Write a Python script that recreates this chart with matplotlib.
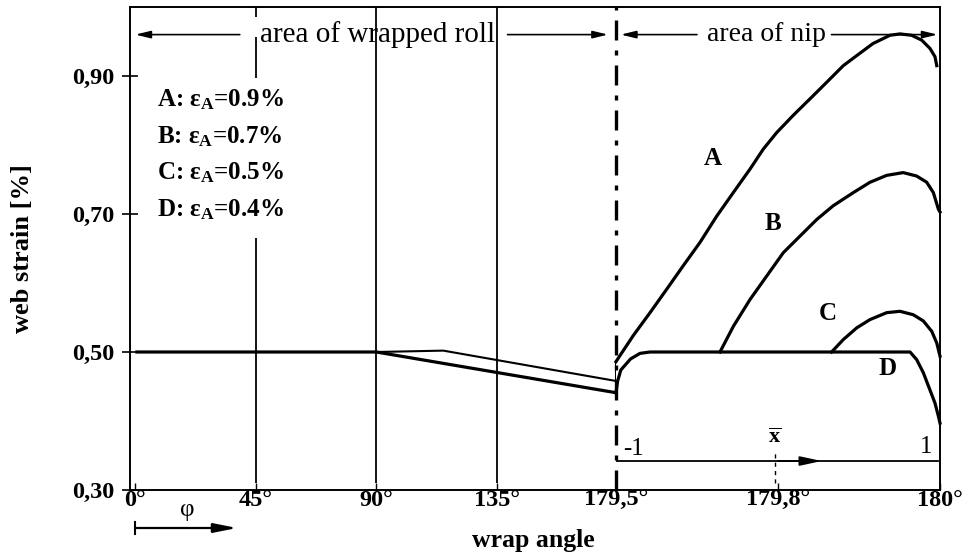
import matplotlib
matplotlib.use('Agg')
import matplotlib.pyplot as plt

plt.rcParams['font.family'] = ['Liberation Serif', 'DejaVu Serif']
plt.rcParams['mathtext.fontset'] = 'custom'
plt.rcParams['mathtext.rm'] = 'Liberation Serif:bold'
plt.rcParams['mathtext.it'] = 'Liberation Serif:bold'
plt.rcParams['mathtext.bf'] = 'Liberation Serif:bold'

# ---------------- data ----------------
# area of wrapped roll (x = wrap angle in degrees)
wrap_lower_angle = [0, 90, 179.5]
wrap_lower_strain = [0.50, 0.50, 0.441]
wrap_upper_angle = [90, 115, 179.5, 179.5]
wrap_upper_strain = [0.50, 0.502, 0.458, 0.486]

# area of nip (x = normalised nip coordinate x-bar, -1 .. 1)
nip_A_x = [-1.0, -0.975, -0.893, -0.79, -0.687, -0.585, -0.481, -0.378, -0.276, -0.173,
           -0.091, -0.008, 0.094, 0.198, 0.301, 0.403, 0.50, 0.586, 0.691, 0.753,
           0.825, 0.887, 0.938, 0.969, 0.98]
nip_A_strain = [0.486, 0.495, 0.524, 0.557, 0.591, 0.625, 0.659, 0.697, 0.731, 0.765,
                0.794, 0.818, 0.843, 0.867, 0.891, 0.915, 0.932, 0.947, 0.959, 0.961,
                0.959, 0.952, 0.940, 0.928, 0.915]

nip_D_x = [-1.0, -0.99, -0.97, -0.94, -0.91, -0.852, -0.79, -0.75, 0.815, 0.856,
           0.897, 0.938, 0.969, 0.99, 1.0]
nip_D_strain = [0.441, 0.458, 0.474, 0.482, 0.490, 0.498, 0.50, 0.50, 0.50, 0.489,
                0.470, 0.445, 0.426, 0.407, 0.397]

nip_C_x = [0.331, 0.403, 0.486, 0.568, 0.671, 0.753, 0.835, 0.897, 0.949, 0.98, 1.0]
nip_C_strain = [0.50, 0.518, 0.535, 0.547, 0.557, 0.559, 0.554, 0.545, 0.530, 0.513, 0.494]

nip_B_x = [-0.358, -0.276, -0.173, -0.07, 0.033, 0.136, 0.239, 0.341, 0.465, 0.568,
           0.671, 0.773, 0.856, 0.918, 0.959, 0.99, 1.0]
nip_B_strain = [0.50, 0.537, 0.576, 0.610, 0.644, 0.668, 0.692, 0.712, 0.731, 0.746,
                0.756, 0.760, 0.755, 0.746, 0.731, 0.707, 0.703]

legend_lines = [r"A: $\varepsilon_{A}$=0.9%", r"B: $\varepsilon_{A}$=0.7%",
                r"C: $\varepsilon_{A}$=0.5%", r"D: $\varepsilon_{A}$=0.4%"]
curve_letters = ['A', 'B', 'C', 'D']

wrap_ticks = [0, 45, 90, 135, 179.5]
wrap_ticklabels = ['0°', '45°', '90°', '135°', '179,5°']
nip_ticks = [0, 1]
nip_ticklabels = ['179,8°', '180°']
y_ticks = [0.30, 0.50, 0.70, 0.90]
y_ticklabels = ['0,30', '0,50', '0,70', '0,90']

# ---------------- figure ----------------
W, H = 968, 559
fig = plt.figure(figsize=(W / 100, H / 100), dpi=100)
x0, xb, x1 = 130, 616, 940
ytop, ybot = 7, 490
axL = fig.add_axes([x0 / W, 1 - ybot / H, (xb - x0) / W, (ybot - ytop) / H])
axR = fig.add_axes([xb / W, 1 - ybot / H, (x1 - xb) / W, (ybot - ytop) / H], sharey=axL)

for ax in (axL, axR):
    for s in ax.spines.values():
        s.set_linewidth(1.4)
axL.spines['right'].set_visible(False)
axR.spines['left'].set_visible(False)

axL.set_xlim(-2, 179.5)
axR.set_xlim(-1, 1)
axL.set_ylim(0.30, 1.00)

# ticks
axL.set_yticks(y_ticks)
axL.set_yticklabels(y_ticklabels, fontsize=17.5, fontweight='bold')
axL.tick_params(axis='y', direction='inout', length=12, width=1.2, pad=5)
axL.set_xticks(wrap_ticks)
axL.set_xticklabels(wrap_ticklabels, fontsize=17.5, fontweight='bold')
axL.tick_params(axis='x', direction='in', length=5, width=1.0, pad=0)
axR.set_xticks(nip_ticks)
axR.set_xticklabels(nip_ticklabels, fontsize=17.5, fontweight='bold')
axR.tick_params(axis='x', direction='in', length=5, width=1.0, pad=0)
axR.tick_params(axis='y', left=False, labelleft=False)

# vertical guide lines in wrapped area
axL.vlines([45, 45, 45], [0.31, 0.897, 0.985], [0.665, 0.957, 1.0], color='k', lw=1.3)
axL.vlines([90, 135], 0.31, 1.0, color='k', lw=1.3)

# boundary dash-dot line
axR.axvline(-1, color='k', lw=2.4, ls=(0, (6, 3, 1.5, 3)), clip_on=False)

# curves wrapped region
axL.plot(wrap_lower_angle, wrap_lower_strain, color='k', lw=2.3, solid_capstyle='butt')
axL.plot(wrap_upper_angle, wrap_upper_strain, color='k', lw=1.5, clip_on=False)

# curves nip region
for xs, ys in [(nip_A_x, nip_A_strain), (nip_D_x, nip_D_strain),
               (nip_C_x, nip_C_strain), (nip_B_x, nip_B_strain)]:
    axR.plot(xs, ys, color='k', lw=2.3, clip_on=False, solid_joinstyle='round')

# curve letters
for lab, (xx, yy) in zip(curve_letters, [(-0.40, 0.780), (-0.03, 0.686), (0.31, 0.556), (0.675, 0.476)]):
    axR.text(xx, yy, lab, fontsize=18, fontweight='bold', ha='center', va='center')

# legend text
for txt, yy in zip(legend_lines, [0.866, 0.812, 0.760, 0.706]):
    axL.text(8, yy, txt, fontsize=18, fontweight='bold', ha='left', va='center')

# area arrows at top
ya = 0.960
arw = dict(arrowstyle='-|>,head_length=0.9,head_width=0.22', color='k', lw=1.2,
           shrinkA=0, shrinkB=0)
axL.annotate('', xy=(0, ya), xytext=(39, ya), arrowprops=arw)
axL.annotate('', xy=(176.5, ya), xytext=(139, ya), arrowprops=arw)
axL.text(90.5, ya, 'area of wrapped roll', fontsize=21, ha='center', va='center')
axR.annotate('', xy=(-0.97, ya), xytext=(-0.5, ya), arrowprops=arw)
axR.annotate('', xy=(0.985, ya), xytext=(0.33, ya), arrowprops=arw)
axR.text(-0.07, ya, 'area of nip', fontsize=20, ha='center', va='center')

# x-bar axis in nip
yx = 0.342
axR.plot([-1, 0.99], [yx, yx], color='k', lw=1.3)
axR.annotate('', xy=(0.27, yx), xytext=(0.0, yx),
             arrowprops=dict(arrowstyle='-|>,head_length=1.3,head_width=0.28', color='k',
                             lw=1.3, shrinkA=0, shrinkB=0))
axR.vlines([-0.02], [0.31], [0.355], color='k', lw=1.0, linestyles=[(0, (3, 3))])
axR.text(-0.895, 0.36, '-1', fontsize=18, ha='center', va='center')
axR.text(0.914, 0.362, '1', fontsize=18, ha='center', va='center')
axR.text(-0.02, 0.374, r'$\overline{\mathrm{x}}$', fontsize=16, ha='center', va='center')

# phi arrow below axis
fig.text(187 / W, 1 - 510 / H, 'φ', fontsize=18, ha='center', va='center')
yp = 1 - 528 / H
fig.add_artist(plt.Line2D([135 / W, 135 / W], [yp - 6 / H, yp + 6 / H], color='k', lw=1.5))
ann = axL.annotate('', xy=(237 / W, yp), xytext=(135 / W, yp), xycoords='figure fraction',
                   textcoords='figure fraction',
                   arrowprops=dict(arrowstyle='-|>,head_length=1.4,head_width=0.28', color='k',
                                   lw=1.6, shrinkA=0, shrinkB=0))
ann.set_annotation_clip(False)

# axis labels
fig.text(533 / W, 1 - 541 / H, 'wrap angle', fontsize=18.5, fontweight='bold',
         ha='center', va='center')
fig.text(23 / W, 1 - 249 / H, 'web strain [%]', fontsize=19, fontweight='bold',
         ha='center', va='center', rotation=90)

fig.savefig('out.png', dpi=100)
